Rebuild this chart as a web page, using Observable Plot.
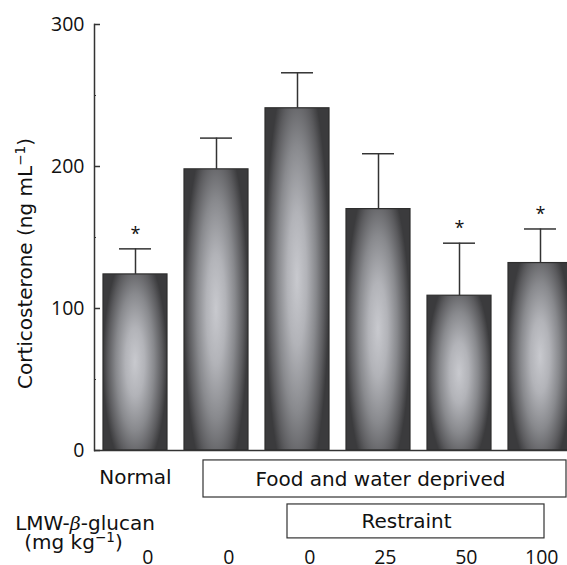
<!DOCTYPE html>
<html><head><meta charset="utf-8">
<script src="https://cdn.jsdelivr.net/npm/d3@7"></script>
<script src="https://cdn.jsdelivr.net/npm/@observablehq/plot@0.6"></script>
<style>html,body{margin:0;padding:0;background:#fff;overflow:hidden;width:567px;height:565px}</style>
</head><body><div id="chart"></div>
<script>
// ---- data ----
const groups = ["Normal", "Deprived", "Restraint 0", "Restraint 25", "Restraint 50", "Restraint 100"];
const doses = ["0", "0", "0", "25", "50", "100"];
const means = [124, 198, 241, 170, 109, 132];
const errors = [18, 22, 25, 39, 37, 24];
const significant = [true, false, false, false, true, true];
const yTicks = [0, 100, 200, 300];
const yMinorTicks = [50, 150, 250];
const yLabel = "Corticosterone (ng mL⁻¹)";
const normalLabel = "Normal";
const deprivedBox = {label: "Food and water deprived", from: "Deprived", to: "Restraint 100"};
const restraintBox = {label: "Restraint", from: "Restraint 0", to: "Restraint 100"};
const doseTitle = ["LMW-β-glucan", "(mg kg⁻¹)"];

const rows = groups.map((g, i) => ({group: g, dose: doses[i], mean: means[i], top: means[i] + errors[i], sig: significant[i]}));

const W = 567, H = 565, ML = 94;
const ink = "#333";
const wordFont = "'DejaVu Sans', sans-serif";
const numFont = "'Open Sans', sans-serif";
const plot = Plot.plot({
  width: W, height: H,
  marginTop: 24, marginBottom: 115, marginLeft: ML, marginRight: 0,
  style: {fontFamily: wordFont, fontSize: "20px", color: "#111", background: "#fff"},
  x: {domain: groups, range: [94, 580], paddingInner: 0.212, paddingOuter: 0.0985, axis: null},
  y: {domain: [0, 300], axis: null},
  marks: [
    Plot.barY(rows, {x: "group", y: "mean", fill: "url(#barGrad)", stroke: "#2e2e2e", strokeWidth: 1.2}),
    Plot.ruleX(rows, {x: "group", y1: "mean", y2: "top", stroke: ink, strokeWidth: 1.5}),
    Plot.tickY(rows, {x: "group", y: "top", stroke: ink, strokeWidth: 1.5, insetLeft: 16, insetRight: 16}),
    Plot.text(rows.filter(d => d.sig), {x: "group", y: "top", text: () => "*", lineAnchor: "bottom", dy: -9, fontSize: 18, fontFamily: numFont}),
    Plot.frame({anchor: "left", stroke: ink, strokeWidth: 1.5}),
    Plot.ruleY([0], {stroke: ink, strokeWidth: 1.5}),
    Plot.tickY(yTicks, {y: d => d, insetRight: W - ML - 6, stroke: ink, strokeWidth: 1.5}),
    Plot.tickY(yMinorTicks, {y: d => d, insetRight: W - ML - 2, stroke: ink, strokeWidth: 1.2}),
    Plot.text(yTicks, {y: d => d, text: d => String(d), frameAnchor: "left", textAnchor: "end", dx: -10, lineAnchor: "middle", fontSize: 19.5, fontFamily: numFont}),
    Plot.text([yLabel], {frameAnchor: "left", textAnchor: "middle", rotate: -90, dx: -69, dy: 26, text: d => d, lineAnchor: "middle", fontSize: 20}),
    // annotation rows
    Plot.text([normalLabel], {x: d => d, text: d => d, frameAnchor: "bottom", lineAnchor: "bottom", dy: 33.5, fontSize: 20}),
    Plot.rect([deprivedBox], {x1: "from", x2: "to", y1: -7, y2: -33.1, insetLeft: 19, insetRight: 6, fill: "white", stroke: ink, strokeWidth: 1.2}),
    Plot.text([deprivedBox], {x: () => groups[3], text: "label", frameAnchor: "bottom", lineAnchor: "bottom", dy: 35, dx: 2, fontSize: 20}),
    Plot.rect([restraintBox], {x1: "from", x2: "to", y1: -38, y2: -61.9, insetLeft: 22, insetRight: 28, fill: "white", stroke: ink, strokeWidth: 1.2}),
    Plot.text([restraintBox], {x: () => groups[3], text: "label", frameAnchor: "bottom", lineAnchor: "bottom", dy: 77, dx: 28, fontSize: 20}),
    Plot.text([doseTitle[0]], {frameAnchor: "bottom-left", textAnchor: "middle", lineAnchor: "bottom", dx: -9.5, dy: 79, fontSize: 20}),
    Plot.text([doseTitle[1]], {frameAnchor: "bottom-left", textAnchor: "middle", lineAnchor: "bottom", dx: -21, dy: 98, fontSize: 20}),
    Plot.text(rows, {x: "group", text: "dose", frameAnchor: "bottom", textAnchor: "end", lineAnchor: "bottom", dy: 113, dx: 18, fontSize: 19.5, fontFamily: numFont})
  ]
});

const svg = d3.select(plot);
const grad = svg.insert("defs", ":first-child").append("radialGradient")
  .attr("id", "barGrad").attr("cx", 0.5).attr("cy", 0.5).attr("r", 0.5)
  .attr("gradientTransform", "translate(0.5 0.5) scale(1 1.3) translate(-0.5 -0.5)");
[[0, "#c8c9ce"], [0.3, "#b2b3b8"], [0.6, "#88898d"], [0.85, "#5b5b5e"], [1, "#3b3b3d"]]
  .forEach(([o, c]) => grad.append("stop").attr("offset", o).attr("stop-color", c));

// rich text: superscripts and italic beta
svg.selectAll("text").each(function () {
  const t = this.textContent;
  if (!/⁻¹|β/.test(t)) return;
  const parts = t.split(/(⁻¹|β)/).filter(s => s);
  const sel = d3.select(this);
  sel.text(null);
  parts.forEach(p => {
    if (p === "⁻¹") sel.append("tspan").attr("baseline-shift", "7px").attr("font-size", "0.68em").text("−1");
    else if (p === "β") sel.append("tspan").attr("font-style", "italic").attr("font-family", "'DejaVu Serif', serif").attr("font-size", "0.95em").text("β");
    else sel.append("tspan").text(p);
  });
});

document.getElementById("chart").appendChild(plot);
</script>
</body></html>
